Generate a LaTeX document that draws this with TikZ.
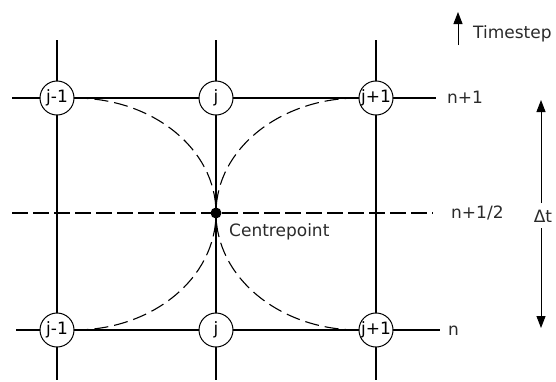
\documentclass[tikz,border=0pt]{standalone}
\usepackage{fontspec}
\setmainfont{DejaVu Sans}
\usetikzlibrary{arrows.meta}
\definecolor{txt}{HTML}{2A2A2A}
\begin{document}
\begin{tikzpicture}[x=1pt,y=-1pt,
  grid/.style={line width=1.1pt,black},
  dashline/.style={line width=1.1pt,black,dash pattern=on 16pt off 5pt},
  arcline/.style={line width=1.1pt,black,dash pattern=on 14pt off 6pt},
  gridnode/.style={circle,draw,line width=1pt,fill=white,minimum size=34pt,inner sep=0pt,font=\fontsize{17}{20}\selectfont},
  lbl/.style={anchor=base west,inner sep=0pt,text=txt,font=\fontsize{17}{20}\selectfont},
  dotnode/.style={circle,fill=black,minimum size=11pt,inner sep=0pt},
  arr/.style={line width=1pt,-{Triangle[length=12pt,width=9pt]}}]
\useasboundingbox (0,0) rectangle (556,381);
% line end coordinates
\coordinate (v1t) at (57,40);  \coordinate (v1b) at (57,380);
\coordinate (v2t) at (216,40); \coordinate (v2b) at (216,380);
\coordinate (v3t) at (376,40); \coordinate (v3b) at (376,380);
\coordinate (h1l) at (12,98);  \coordinate (h1r) at (436,98);
\coordinate (h2l) at (16,330); \coordinate (h2r) at (440,330);
\coordinate (hml) at (12,213); \coordinate (hmr) at (433,213);
% grid lines
\draw[grid] (v1t) -- (v1b);
\draw[grid] (v2t) -- (v2b);
\draw[grid] (v3t) -- (v3b);
\draw[grid] (h1l) -- (h1r);
\draw[grid] (h2l) -- (h2r);
\draw[dashline] (hml) -- (hmr);
% nodes
\node[gridnode] (a1) at (57,98) {j-1};
\node[gridnode] (a2) at (216,98) {j};
\node[gridnode] (a3) at (376,98) {j+1};
\node[gridnode] (b1) at (57,330) {j-1};
\node[gridnode] (b2) at (216,330) {j};
\node[gridnode] (b3) at (376,330) {j+1};
\coordinate (c) at (216,213);
% dashed arcs
\draw[arcline] (a1.east) .. controls +(78,0) and +(0,-64) .. (c);
\draw[arcline] (a3.west) .. controls +(-78,0) and +(0,-64) .. (c);
\draw[arcline] (b1.east) .. controls +(78,0) and +(0,65) .. (c);
\draw[arcline] (b3.west) .. controls +(-78,0) and +(0,65) .. (c);
\node[dotnode] (cd) at (c) {};
% labels
\node[lbl] (lc) at (229,236) {Centrepoint};
\node[lbl] (l1) at (447,103) {n+1};
\node[lbl] (lm) at (451,218) {n+1/2};
\node[lbl] (l0) at (448,335) {n};
% timestep arrow
\coordinate (ts0) at (458,45); \coordinate (ts1) at (458,12);
\draw[arr] (ts0) -- (ts1);
\node[lbl] (ts) at (473,38) {Timestep};
% delta t arrow
\coordinate (dg1) at (541,203); \coordinate (dtop) at (541,100);
\coordinate (dg2) at (541,228); \coordinate (dbot) at (541,328);
\draw[arr] (dg1) -- (dtop);
\draw[arr] (dg2) -- (dbot);
\node[lbl,anchor=base] (dt) at (543,222) {Δt};
\end{tikzpicture}
\end{document}
